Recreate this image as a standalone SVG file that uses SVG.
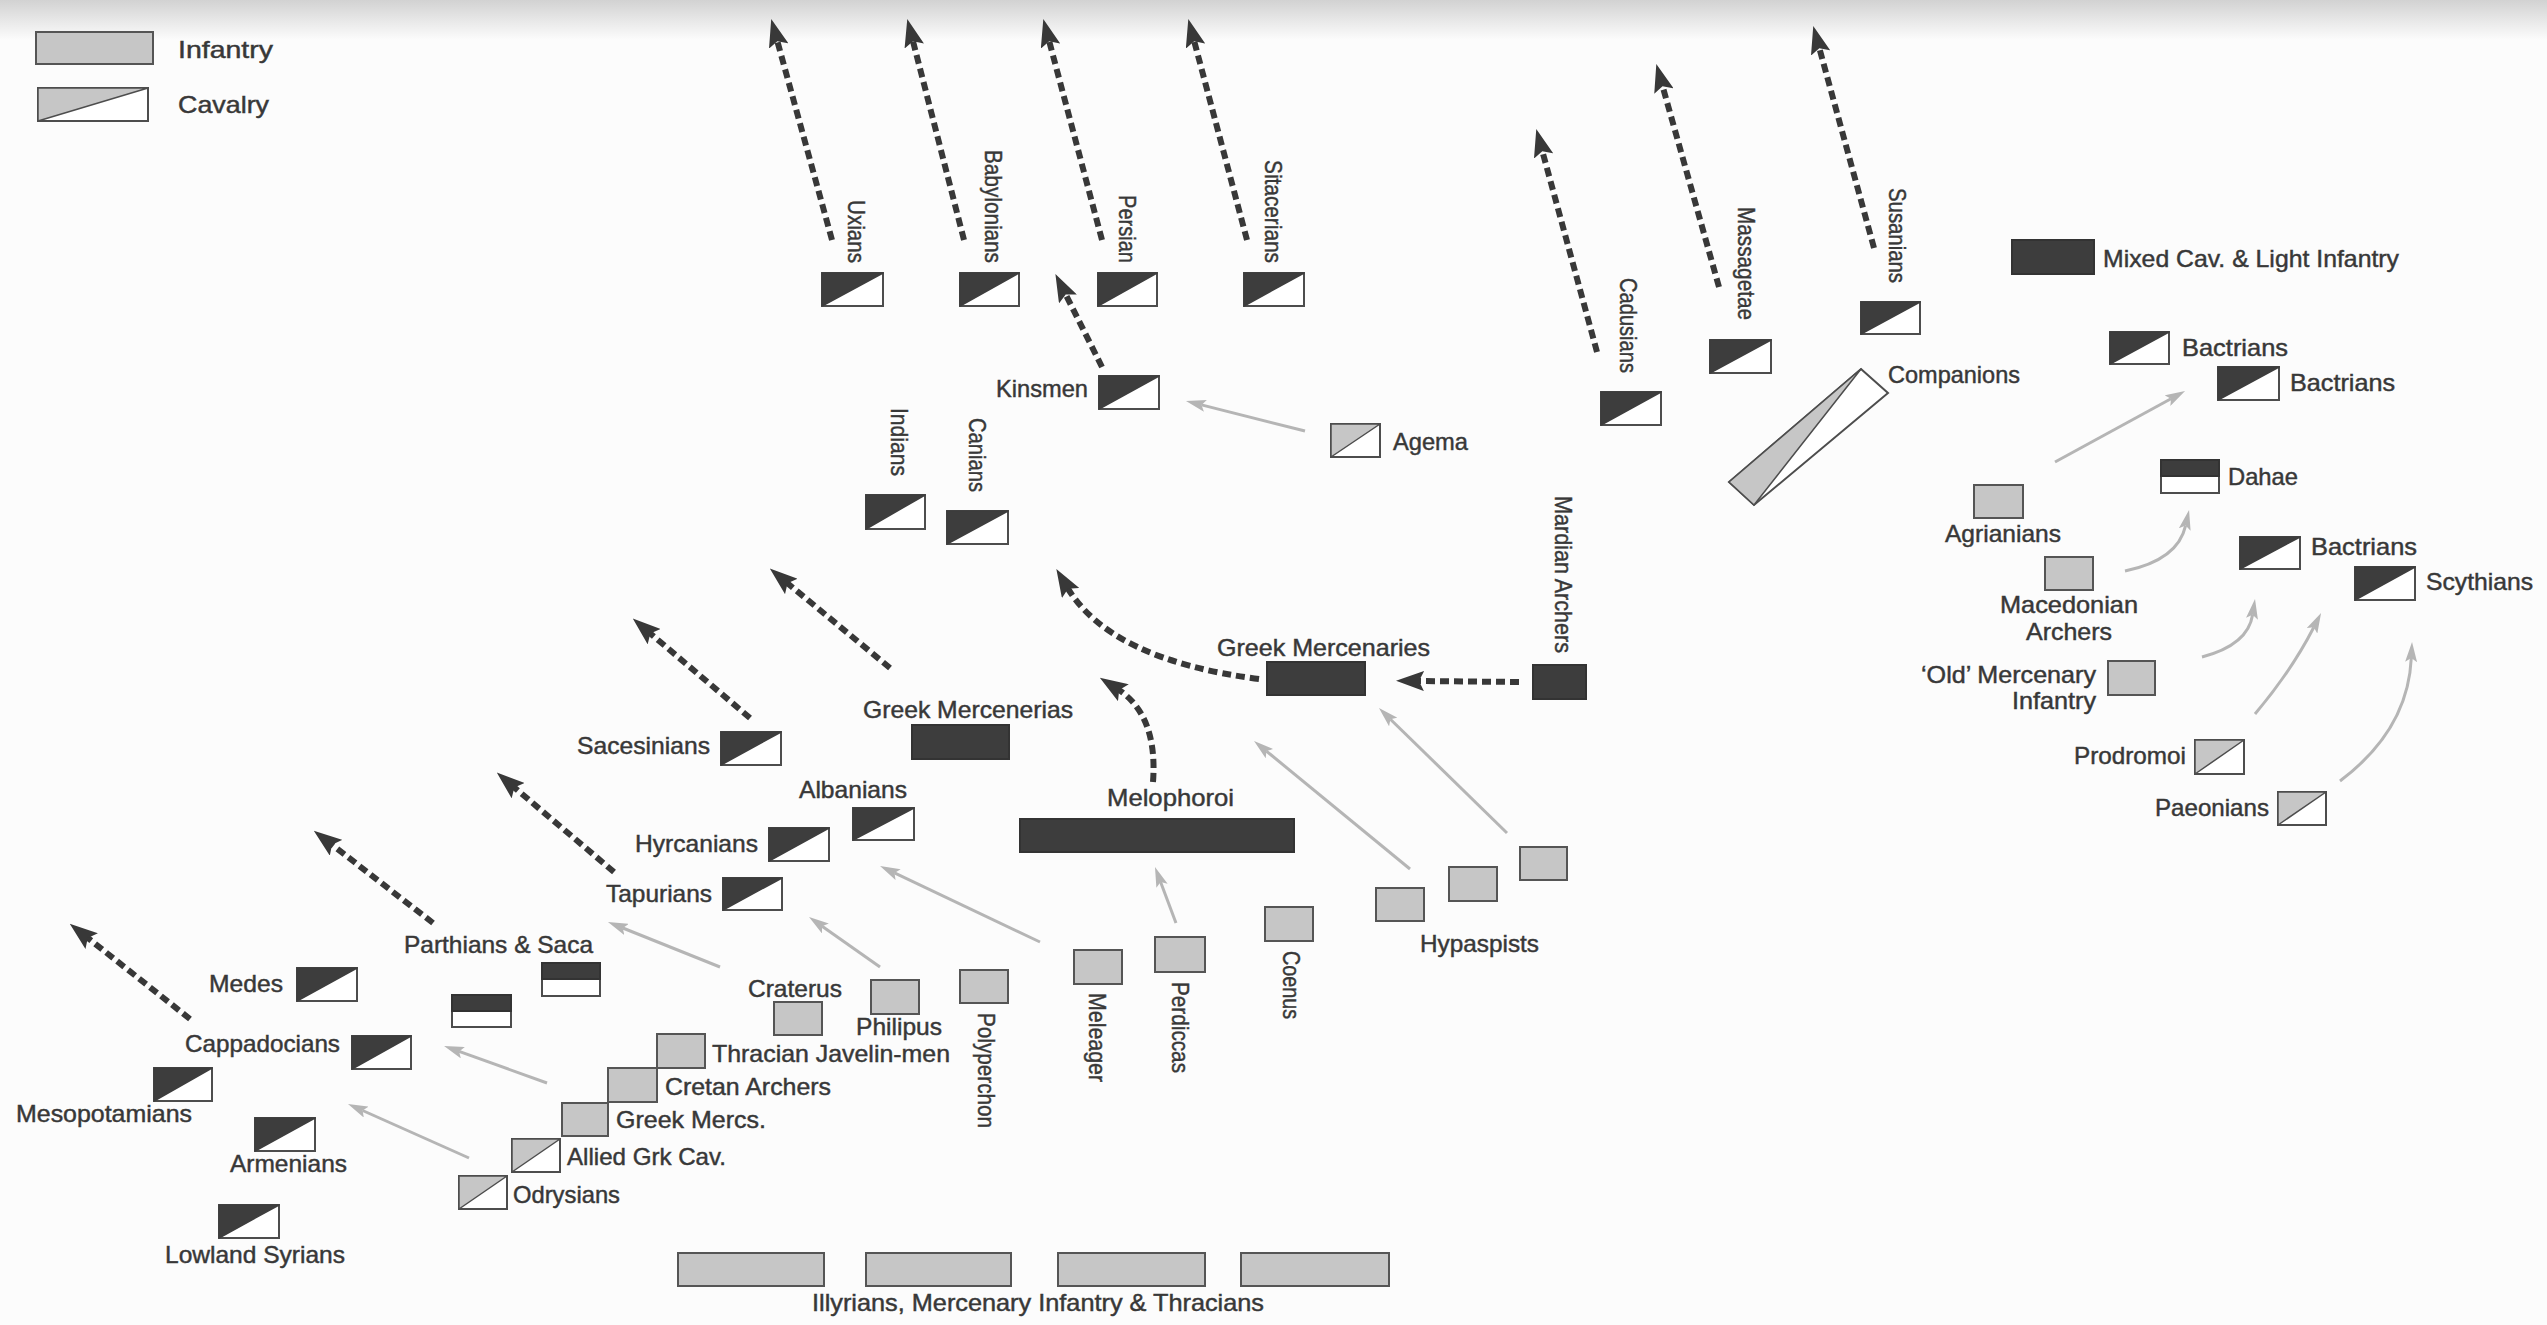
<svg xmlns="http://www.w3.org/2000/svg" width="2547" height="1325" viewBox="0 0 2547 1325">
<defs>
<style>
.b{fill:#fff;stroke:#4d4d4d;stroke-width:2}
.i{fill:#c6c6c6;stroke:#555;stroke-width:2}
.m{fill:#3d3d3d;stroke:#333;stroke-width:2}
.dk{fill:#3d3d3d;stroke:#3d3d3d;stroke-width:1.5;stroke-linejoin:round}
.lt{fill:#c6c6c6;stroke:#4d4d4d;stroke-width:1.5;stroke-linejoin:round}
text{font-family:"Liberation Sans",Arial,sans-serif;font-size:24px;fill:#383838;stroke:#383838;stroke-width:0.45}
.v{font-family:"Liberation Sans Narrow","Liberation Sans",Arial,sans-serif}
.da{fill:none;stroke:#383838;stroke-width:6;stroke-dasharray:9 5;marker-end:url(#ah)}
.la{fill:none;stroke:#b5b5b5;stroke-width:3;marker-end:url(#al)}
</style>
<marker id="ah" viewBox="0 0 28 20" refX="7" refY="10" markerWidth="28" markerHeight="20" markerUnits="userSpaceOnUse" orient="auto"><path d="M0,0 L28,10 L0,20 L5,10 Z" fill="#383838"/></marker>
<marker id="al" viewBox="0 0 20 12" refX="4" refY="6" markerWidth="20" markerHeight="12" markerUnits="userSpaceOnUse" orient="auto"><path d="M0,0 L20,6 L0,12 L4,6 Z" fill="#b5b5b5"/></marker>
<linearGradient id="topg" x1="0" y1="0" x2="0" y2="1"><stop offset="0" stop-color="#d2d2d2"/><stop offset="1" stop-color="#fcfcfc"/></linearGradient>
</defs>
<rect x="0" y="0" width="2547" height="1325" fill="#fcfcfc"/>
<rect x="0" y="0" width="2547" height="40" fill="url(#topg)"/>

<g id="legend">
<rect class="i" x="36" y="32" width="117" height="32"/>
<text x="178" y="58" textLength="95" lengthAdjust="spacingAndGlyphs">Infantry</text>
<rect class="b" x="38" y="88" width="110" height="33"/><polygon class="lt" points="38,88 148,88 38,121"/>
<text x="178" y="113" textLength="91" lengthAdjust="spacingAndGlyphs">Cavalry</text>
<rect class="m" x="2012" y="240" width="82" height="34"/>
<text x="2103" y="267" textLength="296" lengthAdjust="spacingAndGlyphs">Mixed Cav. &amp; Light Infantry</text>
</g>

<g id="connectors">
<path class="da" d="M832,240 L776.8,39.2"/>
<path class="da" d="M964,240 L912.5,39.3"/>
<path class="da" d="M1102,240 L1048.7,39.3"/>
<path class="da" d="M1247,240 L1193.7,39.3"/>
<path class="da" d="M1102,367 L1064.8,292.7"/>
<path class="da" d="M1597,352 L1541.8,149.2"/>
<path class="da" d="M1719,287 L1662,84.2"/>
<path class="da" d="M1874,248 L1818.8,46.2"/>
<path class="da" d="M1259,679 Q1110,660 1067,587"/>
<path class="da" d="M1519,682 L1417,681"/>
<path class="da" d="M1153,782 Q1158,715 1117.5,689"/>
<path class="da" d="M890,668 L786,582"/>
<path class="da" d="M750,718 L648.8,632.2"/>
<path class="da" d="M614,872 L512.8,786.2"/>
<path class="da" d="M433,923 L330.4,843.5"/>
<path class="da" d="M190,1019 L86.2,936.7"/>
<path class="la" d="M1305,431 L1201.5,404.9"/>
<path class="la" d="M2055,462 L2171,398.7"/>
<path class="la" d="M2125,571 Q2178,560 2185.6,525.6"/>
<path class="la" d="M2202,657 Q2248,645 2252.6,614.8"/>
<path class="la" d="M2255,714 Q2292,670 2313.8,627.3"/>
<path class="la" d="M2340,781 Q2408,730 2411.3,658"/>
<path class="la" d="M1410,869 L1266.4,751.1"/>
<path class="la" d="M1507,833 L1390.4,719.2"/>
<path class="la" d="M1176,923 L1160.6,882"/>
<path class="la" d="M1040,942 L894.5,872.9"/>
<path class="la" d="M880,967 L822.1,926.2"/>
<path class="la" d="M720,967 L622.8,928"/>
<path class="la" d="M547,1083 L459.1,1051.4"/>
<path class="la" d="M469,1158 L362.6,1110.5"/>
</g>

<g id="uxians"><rect class="b" x="822" y="273" width="61" height="33"/><polygon class="dk" points="822,273 883,273 822,306"/><text class="v" transform="translate(848,200) rotate(90)" textLength="63" lengthAdjust="spacingAndGlyphs">Uxians</text></g>
<g id="babylonians"><rect class="b" x="960" y="273" width="59" height="33"/><polygon class="dk" points="960,273 1019,273 960,306"/><text class="v" transform="translate(985,150) rotate(90)" textLength="113" lengthAdjust="spacingAndGlyphs">Babylonians</text></g>
<g id="persian"><rect class="b" x="1098" y="273" width="59" height="33"/><polygon class="dk" points="1098,273 1157,273 1098,306"/><text class="v" transform="translate(1119,195) rotate(90)" textLength="68" lengthAdjust="spacingAndGlyphs">Persian</text></g>
<g id="sitacerians"><rect class="b" x="1244" y="273" width="60" height="33"/><polygon class="dk" points="1244,273 1304,273 1244,306"/><text class="v" transform="translate(1265,160) rotate(90)" textLength="103" lengthAdjust="spacingAndGlyphs">Sitacerians</text></g>
<g id="kinsmen"><rect class="b" x="1099" y="376" width="60" height="33"/><polygon class="dk" points="1099,376 1159,376 1099,409"/><text x="996" y="397" textLength="92" lengthAdjust="spacingAndGlyphs">Kinsmen</text></g>
<g id="agema"><rect class="b" x="1331" y="424" width="49" height="33"/><polygon class="lt" points="1331,424 1380,424 1331,457"/><text x="1393" y="450" textLength="75" lengthAdjust="spacingAndGlyphs">Agema</text></g>
<g id="indians"><rect class="b" x="866" y="495" width="59" height="34"/><polygon class="dk" points="866,495 925,495 866,529"/><text class="v" transform="translate(891,408) rotate(90)" textLength="68" lengthAdjust="spacingAndGlyphs">Indians</text></g>
<g id="canians"><rect class="b" x="947" y="511" width="61" height="33"/><polygon class="dk" points="947,511 1008,511 947,544"/><text class="v" transform="translate(969,418) rotate(90)" textLength="74" lengthAdjust="spacingAndGlyphs">Canians</text></g>
<g id="cadusians"><rect class="b" x="1601" y="392" width="60" height="33"/><polygon class="dk" points="1601,392 1661,392 1601,425"/><text class="v" transform="translate(1620,278) rotate(90)" textLength="95" lengthAdjust="spacingAndGlyphs">Cadusians</text></g>
<g id="massagetae"><rect class="b" x="1710" y="340" width="61" height="33"/><polygon class="dk" points="1710,340 1771,340 1710,373"/><text class="v" transform="translate(1738,207) rotate(90)" textLength="113" lengthAdjust="spacingAndGlyphs">Massagetae</text></g>
<g id="susanians"><rect class="b" x="1861" y="302" width="59" height="32"/><polygon class="dk" points="1861,302 1920,302 1861,334"/><text class="v" transform="translate(1889,188) rotate(90)" textLength="95" lengthAdjust="spacingAndGlyphs">Susanians</text></g>
<g id="companions"><polygon class="b" points="1861,369 1888,393 1754,505 1729,482"/><polygon class="lt" points="1861,369 1729,482 1754,505"/><text x="1888" y="383" textLength="132" lengthAdjust="spacingAndGlyphs">Companions</text></g>

<g id="bactrians1"><rect class="b" x="2110" y="332" width="59" height="32"/><polygon class="dk" points="2110,332 2169,332 2110,364"/><text x="2182" y="356" textLength="106" lengthAdjust="spacingAndGlyphs">Bactrians</text></g>
<g id="bactrians2"><rect class="b" x="2218" y="367" width="61" height="33"/><polygon class="dk" points="2218,367 2279,367 2218,400"/><text x="2290" y="391" textLength="105" lengthAdjust="spacingAndGlyphs">Bactrians</text></g>
<g id="dahae"><rect class="b" x="2161" y="460" width="58" height="33"/><rect class="m" x="2161" y="460" width="58" height="16"/><text x="2228" y="485" textLength="70" lengthAdjust="spacingAndGlyphs">Dahae</text></g>
<g id="agrianians"><rect class="i" x="1974" y="485" width="49" height="33"/><text x="1945" y="542" textLength="116" lengthAdjust="spacingAndGlyphs">Agrianians</text></g>
<g id="macedonian-archers"><rect class="i" x="2045" y="557" width="48" height="33"/><text x="2000" y="613" textLength="138" lengthAdjust="spacingAndGlyphs">Macedonian</text><text x="2026" y="640" textLength="86" lengthAdjust="spacingAndGlyphs">Archers</text></g>
<g id="bactrians3"><rect class="b" x="2240" y="537" width="60" height="32"/><polygon class="dk" points="2240,537 2300,537 2240,569"/><text x="2311" y="555" textLength="106" lengthAdjust="spacingAndGlyphs">Bactrians</text></g>
<g id="scythians"><rect class="b" x="2355" y="567" width="60" height="33"/><polygon class="dk" points="2355,567 2415,567 2355,600"/><text x="2426" y="590" textLength="107" lengthAdjust="spacingAndGlyphs">Scythians</text></g>
<g id="old-mercenary"><rect class="i" x="2108" y="661" width="47" height="34"/><text x="1921" y="683" textLength="175" lengthAdjust="spacingAndGlyphs">‘Old’ Mercenary</text><text x="2012" y="709" textLength="84" lengthAdjust="spacingAndGlyphs">Infantry</text></g>
<g id="prodromoi"><rect class="b" x="2195" y="740" width="49" height="34"/><polygon class="lt" points="2195,740 2244,740 2195,774"/><text x="2074" y="764" textLength="112" lengthAdjust="spacingAndGlyphs">Prodromoi</text></g>
<g id="paeonians"><rect class="b" x="2278" y="792" width="48" height="33"/><polygon class="lt" points="2278,792 2326,792 2278,825"/><text x="2155" y="816" textLength="114" lengthAdjust="spacingAndGlyphs">Paeonians</text></g>

<g id="greek-mercenaries"><rect class="m" x="1267" y="662" width="98" height="33"/><text x="1217" y="656" textLength="213" lengthAdjust="spacingAndGlyphs">Greek Mercenaries</text></g>
<g id="mardian-archers"><rect class="m" x="1533" y="665" width="53" height="34"/><text class="v" transform="translate(1555,496) rotate(90)" textLength="157" lengthAdjust="spacingAndGlyphs">Mardian Archers</text></g>
<g id="greek-mercenerias"><rect class="m" x="912" y="725" width="97" height="34"/><text x="863" y="718" textLength="210" lengthAdjust="spacingAndGlyphs">Greek Mercenerias</text></g>
<g id="melophoroi"><rect class="m" x="1020" y="819" width="274" height="33"/><text x="1107" y="806" textLength="127" lengthAdjust="spacingAndGlyphs">Melophoroi</text></g>
<g id="hypaspists"><rect class="i" x="1376" y="888" width="48" height="33"/><rect class="i" x="1449" y="867" width="48" height="34"/><rect class="i" x="1520" y="847" width="47" height="33"/><text x="1420" y="952" textLength="119" lengthAdjust="spacingAndGlyphs">Hypaspists</text></g>
<g id="coenus"><rect class="i" x="1265" y="907" width="48" height="34"/><text class="v" transform="translate(1283,951) rotate(90)" textLength="68" lengthAdjust="spacingAndGlyphs">Coenus</text></g>
<g id="perdiccas"><rect class="i" x="1155" y="937" width="50" height="35"/><text class="v" transform="translate(1172,982) rotate(90)" textLength="91" lengthAdjust="spacingAndGlyphs">Perdiccas</text></g>
<g id="meleager"><rect class="i" x="1074" y="950" width="48" height="34"/><text class="v" transform="translate(1089,993) rotate(90)" textLength="89" lengthAdjust="spacingAndGlyphs">Meleager</text></g>
<g id="polyperchon"><rect class="i" x="960" y="970" width="48" height="33"/><text class="v" transform="translate(978,1013) rotate(90)" textLength="115" lengthAdjust="spacingAndGlyphs">Polyperchon</text></g>
<g id="philipus"><rect class="i" x="871" y="980" width="48" height="34"/><text x="856" y="1035" textLength="86" lengthAdjust="spacingAndGlyphs">Philipus</text></g>
<g id="craterus"><rect class="i" x="774" y="1002" width="48" height="33"/><text x="748" y="997" textLength="94" lengthAdjust="spacingAndGlyphs">Craterus</text></g>
<g id="thracian-javelin-men"><rect class="i" x="657" y="1034" width="48" height="34"/><text x="712" y="1062" textLength="238" lengthAdjust="spacingAndGlyphs">Thracian Javelin-men</text></g>
<g id="cretan-archers"><rect class="i" x="608" y="1068" width="49" height="34"/><text x="665" y="1095" textLength="166" lengthAdjust="spacingAndGlyphs">Cretan Archers</text></g>
<g id="greek-mercs"><rect class="i" x="562" y="1103" width="46" height="33"/><text x="616" y="1128" textLength="150" lengthAdjust="spacingAndGlyphs">Greek Mercs.</text></g>
<g id="allied-grk-cav"><rect class="b" x="512" y="1139" width="48" height="33"/><polygon class="lt" points="512,1139 560,1139 512,1172"/><text x="567" y="1165" textLength="159" lengthAdjust="spacingAndGlyphs">Allied Grk Cav.</text></g>
<g id="odrysians"><rect class="b" x="459" y="1176" width="48" height="33"/><polygon class="lt" points="459,1176 507,1176 459,1209"/><text x="513" y="1203" textLength="107" lengthAdjust="spacingAndGlyphs">Odrysians</text></g>
<g id="illyrians"><rect class="i" x="678" y="1253" width="146" height="33"/><rect class="i" x="866" y="1253" width="145" height="33"/><rect class="i" x="1058" y="1253" width="147" height="33"/><rect class="i" x="1241" y="1253" width="148" height="33"/><text x="812" y="1311" textLength="452" lengthAdjust="spacingAndGlyphs">Illyrians, Mercenary Infantry &amp; Thracians</text></g>

<g id="sacesinians"><rect class="b" x="721" y="732" width="60" height="33"/><polygon class="dk" points="721,732 781,732 721,765"/><text x="577" y="754" textLength="133" lengthAdjust="spacingAndGlyphs">Sacesinians</text></g>
<g id="albanians"><rect class="b" x="853" y="808" width="61" height="32"/><polygon class="dk" points="853,808 914,808 853,840"/><text x="799" y="798" textLength="108" lengthAdjust="spacingAndGlyphs">Albanians</text></g>
<g id="hyrcanians"><rect class="b" x="769" y="828" width="60" height="33"/><polygon class="dk" points="769,828 829,828 769,861"/><text x="635" y="852" textLength="123" lengthAdjust="spacingAndGlyphs">Hyrcanians</text></g>
<g id="tapurians"><rect class="b" x="723" y="878" width="59" height="32"/><polygon class="dk" points="723,878 782,878 723,910"/><text x="606" y="902" textLength="106" lengthAdjust="spacingAndGlyphs">Tapurians</text></g>
<g id="parthians-saca"><rect class="b" x="542" y="963" width="58" height="33"/><rect class="m" x="542" y="963" width="58" height="16"/><rect class="b" x="452" y="995" width="59" height="32"/><rect class="m" x="452" y="995" width="59" height="16"/><text x="404" y="953" textLength="189" lengthAdjust="spacingAndGlyphs">Parthians &amp; Saca</text></g>
<g id="medes"><rect class="b" x="297" y="968" width="60" height="33"/><polygon class="dk" points="297,968 357,968 297,1001"/><text x="209" y="992" textLength="74" lengthAdjust="spacingAndGlyphs">Medes</text></g>
<g id="cappadocians"><rect class="b" x="352" y="1036" width="59" height="33"/><polygon class="dk" points="352,1036 411,1036 352,1069"/><text x="185" y="1052" textLength="155" lengthAdjust="spacingAndGlyphs">Cappadocians</text></g>
<g id="mesopotamians"><rect class="b" x="154" y="1068" width="58" height="33"/><polygon class="dk" points="154,1068 212,1068 154,1101"/><text x="16" y="1122" textLength="176" lengthAdjust="spacingAndGlyphs">Mesopotamians</text></g>
<g id="armenians"><rect class="b" x="255" y="1118" width="60" height="33"/><polygon class="dk" points="255,1118 315,1118 255,1151"/><text x="230" y="1172" textLength="117" lengthAdjust="spacingAndGlyphs">Armenians</text></g>
<g id="lowland-syrians"><rect class="b" x="219" y="1205" width="60" height="33"/><polygon class="dk" points="219,1205 279,1205 219,1238"/><text x="165" y="1263" textLength="180" lengthAdjust="spacingAndGlyphs">Lowland Syrians</text></g>
</svg>
